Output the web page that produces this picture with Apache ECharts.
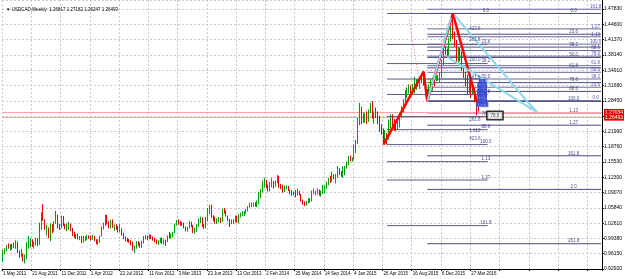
<!DOCTYPE html>
<html><head><meta charset="utf-8">
<script src="https://cdn.jsdelivr.net/npm/echarts/dist/echarts.min.js"></script>
<style>html,body{margin:0;padding:0;background:#fff}#c{width:625px;height:279px}</style>
</head><body><div id="c"></div>
<script>
// ---------- DATA ----------
const title = "\u25BC USDCAD,Weekly  1.26817 1.27182 1.26247 1.26493";
const firstOpen = 0.9560;
const closes = [
.9670,.9700,.9780,.9760,.9790,.9780,.9780,.9850,.9650,.9570,
.9600,.9480,.9560,.9800,.9870,.9880,.9780,.9850,.9910,.9810,
1.0220,1.0480,1.0330,1.0150,1.0150,.9970,1.0180,1.0160,1.0280,1.0440,
1.0200,1.0170,1.0390,1.0250,1.0190,1.0190,1.0220,1.0110,1.0030,1.0000,
.9970,.9960,.9960,.9900,.9910,.9930,.9980,.9970,.9940,.9980,
.9910,.9840,.9870,.9990,1.0160,1.0230,1.0370,1.0270,1.0200,1.0270,
1.0180,1.0190,1.0170,1.0100,1.0140,1.0030,.9950,.9920,.9890,.9860,
.9850,.9690,.9750,.9830,.9800,.9760,.9870,.9960,.9980,.9930,
1.0000,.9940,.9930,.9910,.9840,.9880,.9930,.9850,.9880,.9860,
.9990,.9980,1.0010,1.0060,1.0240,1.0310,1.0280,1.0240,1.0260,1.0160,
1.0110,1.0170,1.0290,1.0200,1.0100,1.0110,1.0220,1.0330,1.0370,1.0200,
1.0170,1.0350,1.0520,1.0630,1.0390,1.0360,1.0280,1.0310,1.0360,1.0300,
1.0540,1.0520,1.0420,1.0320,1.0280,1.0300,1.0330,1.0360,1.0310,1.0430,
1.0450,1.0470,1.0500,1.0530,1.0610,1.0650,1.0660,1.0680,1.0620,1.0740,
1.0880,1.0970,1.1080,1.1130,1.1050,1.0950,1.1070,1.1080,1.1050,1.1140,
1.1240,1.1030,1.1010,1.0940,1.1020,1.1030,1.0970,1.0910,1.0890,1.0870,
1.0840,1.0930,1.0860,1.0730,1.0670,1.0660,1.0720,1.0750,1.0780,1.0900,
1.0900,1.0900,1.0960,1.0870,1.0920,1.0960,1.1000,1.1100,1.1200,1.1170,
1.1280,1.1210,1.1270,1.1390,1.1310,1.1290,1.1420,1.1440,1.1510,1.1630,
1.1610,1.1620,1.1840,1.2000,1.2430,1.2710,1.2440,1.2440,1.2510,1.2500,
1.2630,1.2660,1.2500,1.2610,1.2540,1.2510,1.2270,1.2190,1.2060,1.2090,
1.2050,1.2400,1.2470,1.2450,1.2310,1.2300,1.2340,1.2530,1.2680,1.2820,
1.3030,1.3070,1.3140,1.3040,1.3150,1.3180,1.3270,1.3170,1.3270,1.3390,
1.3200,1.3070,1.2950,1.3130,1.3240,1.3330,1.3320,1.3340,1.3360,1.3410,
1.3700,1.3960,1.3860,1.3840,1.4130,1.4370,1.4260,1.4070,1.3870,1.3870,
1.3780,1.3530,1.3380,1.3300,1.3040,1.3270,1.3050,1.3080,1.2830,1.2682,
1.2649];
const highs = [
.9700,.9730,.9800,.9830,.9820,.9820,.9850,.9900,.9870,.9680,
.9720,.9620,.9600,.9860,.9990,.9940,.9920,.9870,.9950,.9940,
1.0270,1.0490,1.0660,1.0340,1.0230,1.0170,1.0250,1.0240,1.0300,1.0520,
1.0440,1.0240,1.0420,1.0410,1.0250,1.0250,1.0290,1.0250,1.0160,1.0080,
1.0030,1.0040,.9990,.9990,.9990,.9980,1.0010,1.0000,1.0000,1.0010,
.9990,.9920,.9920,1.0000,1.0190,1.0270,1.0440,1.0440,1.0300,1.0330,
1.0340,1.0230,1.0240,1.0200,1.0240,1.0150,1.0060,.9980,.9950,.9930,
.9900,.9870,.9790,.9880,.9880,.9850,.9890,.9990,1.0010,1.0000,
1.0030,1.0020,.9980,.9950,.9920,.9900,.9950,.9960,.9920,.9910,
1.0000,1.0070,1.0040,1.0080,1.0250,1.0320,1.0340,1.0310,1.0290,1.0270,
1.0190,1.0180,1.0310,1.0290,1.0220,1.0160,1.0240,1.0360,1.0400,1.0380,
1.0240,1.0390,1.0580,1.0650,1.0650,1.0430,1.0400,1.0360,1.0390,1.0380,
1.0560,1.0580,1.0530,1.0420,1.0350,1.0340,1.0350,1.0420,1.0420,1.0450,
1.0480,1.0510,1.0520,1.0560,1.0620,1.0690,1.0700,1.0700,1.0700,1.0740,
1.0920,1.0980,1.1160,1.1220,1.1170,1.1080,1.1130,1.1210,1.1150,1.1160,
1.1280,1.1260,1.1090,1.1070,1.1050,1.1060,1.1050,1.0970,1.0960,1.0930,
1.0960,1.0990,1.0940,1.0880,1.0760,1.0720,1.0730,1.0790,1.0790,1.0950,
1.0990,1.0940,1.0990,1.0970,1.0950,1.1070,1.1050,1.1140,1.1220,1.1260,
1.1350,1.1290,1.1300,1.1470,1.1420,1.1360,1.1460,1.1470,1.1560,1.1680,
1.1690,1.1650,1.1910,1.2020,1.2480,1.2800,1.2720,1.2600,1.2580,1.2620,
1.2660,1.2800,1.2840,1.2620,1.2700,1.2620,1.2530,1.2350,1.2260,1.2230,
1.2160,1.2450,1.2560,1.2560,1.2460,1.2410,1.2450,1.2590,1.2730,1.2880,
1.3070,1.3130,1.3190,1.3170,1.3200,1.3350,1.3300,1.3300,1.3280,1.3420,
1.3460,1.3250,1.3100,1.3190,1.3280,1.3340,1.3330,1.3380,1.3390,1.3450,
1.3720,1.3980,1.4000,1.3950,1.4170,1.4420,1.4690,1.4310,1.4130,1.3980,
1.3960,1.3880,1.3570,1.3460,1.3400,1.3290,1.3290,1.3220,1.3130,1.2880,
1.2718];
const lows = [
.9440,.9600,.9670,.9720,.9680,.9700,.9730,.9720,.9630,.9530,
.9550,.9450,.9410,.9500,.9720,.9750,.9760,.9720,.9790,.9780,
.9800,1.0120,1.0310,1.0120,1.0000,.9940,.9880,1.0050,1.0080,1.0250,
1.0150,1.0120,1.0150,1.0200,1.0130,1.0090,1.0120,1.0090,.9990,.9950,
.9930,.9920,.9900,.9840,.9850,.9880,.9900,.9930,.9900,.9910,
.9880,.9820,.9800,.9850,.9980,1.0130,1.0200,1.0230,1.0150,1.0150,
1.0160,1.0100,1.0120,1.0060,1.0070,1.0000,.9920,.9880,.9860,.9850,
.9790,.9680,.9630,.9720,.9780,.9740,.9740,.9830,.9920,.9900,
.9920,.9920,.9890,.9860,.9820,.9800,.9840,.9830,.9810,.9780,
.9860,.9940,.9930,.9960,1.0050,1.0210,1.0230,1.0210,1.0200,1.0150,
1.0090,1.0080,1.0150,1.0180,1.0050,1.0040,1.0080,1.0180,1.0260,1.0180,
1.0140,1.0150,1.0300,1.0450,1.0370,1.0300,1.0250,1.0240,1.0280,1.0260,
1.0290,1.0460,1.0400,1.0300,1.0180,1.0240,1.0240,1.0280,1.0270,1.0260,
1.0380,1.0410,1.0410,1.0460,1.0510,1.0590,1.0600,1.0610,1.0610,1.0600,
1.0660,1.0790,1.0910,1.1010,1.1000,1.0930,1.0930,1.1020,1.0990,1.1030,
1.1100,1.1010,1.0980,1.0900,1.0920,1.0980,1.0940,1.0870,1.0840,1.0850,
1.0810,1.0840,1.0850,1.0720,1.0650,1.0620,1.0630,1.0680,1.0690,1.0720,
1.0880,1.0850,1.0870,1.0840,1.0820,1.0870,1.0890,1.0980,1.1060,1.1110,
1.1140,1.1190,1.1100,1.1220,1.1280,1.1240,1.1220,1.1270,1.1410,1.1480,
1.1570,1.1560,1.1600,1.1740,1.1930,1.2330,1.2350,1.2380,1.2380,1.2360,
1.2400,1.2590,1.2470,1.2360,1.2480,1.2350,1.2190,1.2130,1.1950,1.1920,
1.1920,1.2020,1.2260,1.2310,1.2210,1.2210,1.2230,1.2280,1.2480,1.2600,
1.2800,1.2900,1.3000,1.2950,1.3010,1.3000,1.3080,1.3140,1.3100,1.3210,
1.3170,1.2960,1.2830,1.2850,1.3060,1.3060,1.3150,1.3260,1.3270,1.3220,
1.3330,1.3600,1.3820,1.3800,1.3800,1.4100,1.4150,1.3990,1.3650,1.3650,
1.3680,1.3480,1.3330,1.3150,1.2990,1.3000,1.2900,1.2990,1.2810,1.2540,
1.2625];
const xTickLabels = ["1 May 2011","21 Aug 2011","11 Dec 2011","1 Apr 2012","22 Jul 2012","11 Nov 2012",
  "3 Mar 2013","23 Jun 2013","13 Oct 2013","2 Feb 2014","25 May 2014","14 Sep 2014","4 Jan 2015",
  "26 Apr 2015","16 Aug 2015","6 Dec 2015","27 Mar 2016"];
const totalWeeks = 328;
const weeksPerTick = 16;
const yMin = 0.9292, yMax = 1.4975, yStep = 0.0323;

// horizontal price lines with axis tags
const priceLines = [1.2630, 1.2530];
const priceTags = ["1.27034", "1.26493"];

// pattern drawings (week index, price)
const redLegs = [[208,1.1920],[230,1.3460],[232,1.2830],[246,1.4690],[259,1.2850]];
const pinkDots = [[222,1.4560],[229,1.2950]];
const cyanA = [[232,1.2830],[245,1.4600]];
const cyanB = [[247,1.4650],[286,1.2860],[292,1.2608],[243,1.3770]];

// fibonacci set A (right, labels near x 570)
const fibAPrices = [1.4690,1.4252,1.3980,1.3761,1.3542,1.3229,1.3044,1.2832,1.2590,1.2330,1.1684,1.0974,0.9826];
const fibALabels = ["0.0","23.6","38.2","50.0","61.8","78.6","88.6","100.0","1.13","1.27","161.8","2.0","261.8"];
const fibARange = [232, 327];
const fibALabelWeek = 312;
// fibonacci set B (middle)
const fibBPrices = [1.4690,1.4036,1.3632,1.3305,1.2978,1.2513,1.2236,1.1920,1.1560,1.1172,1.0208];
const fibBLabels = ["0.0","23.6","38.2","50.0","61.8","78.6","88.6","100.0","1.13","1.27","161.8"];
const fibBRange = [210, 265];
const fibBLabelWeek = 264;
// fibonacci set C (right, labels near x 593)
const fibCPrices = [1.2850,1.3132,1.3306,1.3447,1.3587,1.3788,1.3907,1.4043,1.4198,1.4365,1.4780];
const fibCLabels = ["0.0","23.6","38.2","50.0","61.8","78.6","88.6","100.0","1.13","1.27","161.8"];
const fibCRange = [232, 327];
const fibCLabelWeek = 324;
// expansion labels column (x ~477)
const fibEPrices = [1.4304,1.4086,1.3664,1.3284,1.2397,1.2165,1.1996];
const fibELabels = ["423.6","261.8","200.0","161.8","261.8","1.618","423.6"];
const fibELabelWeek = 258;
// dense blue label cluster
const clusterPrices = [1.3200,1.3130,1.3060,1.2990,1.2920,1.2850,1.2780,1.2710];
const clusterLabels = ["0.0","23.6","38.2","50.0","61.8","78.6","88.6","100.0"];
const clusterWeek = 262;
// boxed note
const boxNote = {week: 269, price: 1.2534, text: "78.6"};

// ---------- CHART ----------
const chart = echarts.init(document.getElementById('c'));
const weeks = Array.from({length: totalWeeks}, (_, i) => i);
const opens = [firstOpen].concat(closes.slice(0, -1));
const ohlc = closes.map((c, i) => [opens[i], c, lows[i], highs[i]]);
const FONT = 'Liberation Sans';

function seg(points, color, width, type, z) {
  return {type:'line', data: points, symbol:'none', silent:true, animation:false,
    lineStyle:{color, width, type: type || 'solid'}, z: z || 5};
}
const series = [];
fibBPrices.forEach(p => series.push(seg([[fibBRange[0],p],[fibBRange[1],p]], '#5c5c88', 1, 'solid', 3)));
fibAPrices.forEach(p => series.push(seg([[fibARange[0],p],[fibARange[1],p]], '#4a4a7e', 1, 'solid', 3)));
fibCPrices.forEach(p => series.push(seg([[fibCRange[0],p],[fibCRange[1],p]], '#6a6a9a', 1, 'solid', 3)));
series.push({
  type:'candlestick', data: ohlc, barWidth: 1.2, animation:false, z: 6,
  itemStyle:{color:'#00a000', color0:'#e00000', borderColor:'#00a000', borderColor0:'#e00000', borderWidth:1},
  markLine:{symbol:'none', silent:true, animation:false,
    lineStyle:{color:'#f2a8a8', width:1, type:'solid'},
    label:{show:true, position:'end', distance:2, color:'#fff', backgroundColor:'#e00000',
      fontSize:5, fontFamily:FONT, padding:[1,1],
      formatter: p => priceTags[p.dataIndex]},
    data: priceLines.map(v => ({yAxis: v}))}
});
series.push(seg(pinkDots, '#f08080', 1, [1,2], 4));
series.push(seg(redLegs, '#ff0000', 2.5, 'solid', 7));
series.push(seg(cyanA, '#8fd8ec', 2, 'solid', 7));
series.push(seg(cyanB, '#8fd8ec', 2, 'solid', 7));
function labels(prices, texts, week, color, extra) {
  return {type:'scatter', symbolSize:0, silent:true, animation:false, z: 8,
    data: prices.map((p, i) => ({value:[week, p], name: texts[i]})),
    label:Object.assign({show:true, position:'top', distance:0, color, fontSize:4.5, fontFamily:FONT,
      formatter: d => d.name}, extra || {})};
}
series.push(labels(fibAPrices, fibALabels, fibALabelWeek, '#20206a'));
series.push(labels(fibBPrices, fibBLabels, fibBLabelWeek, '#20206a'));
series.push(labels(fibCPrices, fibCLabels, fibCLabelWeek, '#2a2aa0'));
series.push(labels(fibEPrices, fibELabels, fibELabelWeek, '#20206a'));
series.push(labels(clusterPrices, clusterLabels, clusterWeek, '#1a1ad0', {fontWeight:'bold', fontSize:5, backgroundColor:'#4a5cc8', color:'#2030f0'}));
series.push({type:'scatter', symbolSize:0, silent:true, animation:false, z: 9,
  data:[{value:[boxNote.week, boxNote.price], name: boxNote.text}],
  label:{show:true, position:'inside', color:'#000', fontSize:4.5, fontFamily:FONT, formatter: d => d.name,
    borderColor:'#000', borderWidth:1.5, backgroundColor:'#fff', padding:[1,3]}});

chart.setOption({
  animation:false,
  backgroundColor:'#ffffff',
  title:{text:title, left:1, top:2, textStyle:{fontSize:4.5, fontWeight:'normal', color:'#000', fontFamily:FONT}},
  grid:{left:1, right:20, top:0, bottom:10},
  xAxis:{type:'category', data:weeks, boundaryGap:true,
    axisLine:{lineStyle:{color:'#000'}},
    axisTick:{show:true, interval: weeksPerTick-1, length:2, lineStyle:{color:'#000'}},
    axisLabel:{interval: weeksPerTick-1, align:'left', fontSize:4.5, fontFamily:FONT, color:'#000', margin:2,
      formatter:(v, i) => xTickLabels[i / weeksPerTick] || ''},
    splitLine:{show:true, interval: weeksPerTick-1, lineStyle:{color:'#c8c8c8', type:[2,2]}}},
  yAxis:{type:'value', position:'right', min:yMin, max:yMax, interval:yStep, scale:true,
    axisLine:{show:true, lineStyle:{color:'#000'}},
    axisTick:{show:true, length:2, lineStyle:{color:'#000'}},
    axisLabel:{fontSize:5, fontFamily:FONT, color:'#000', margin:2, showMaxLabel:false,
      formatter: v => v.toFixed(5)},
    splitLine:{show:true, lineStyle:{color:'#c8c8c8', type:[2,2]}}},
  series
});
</script></body></html>
